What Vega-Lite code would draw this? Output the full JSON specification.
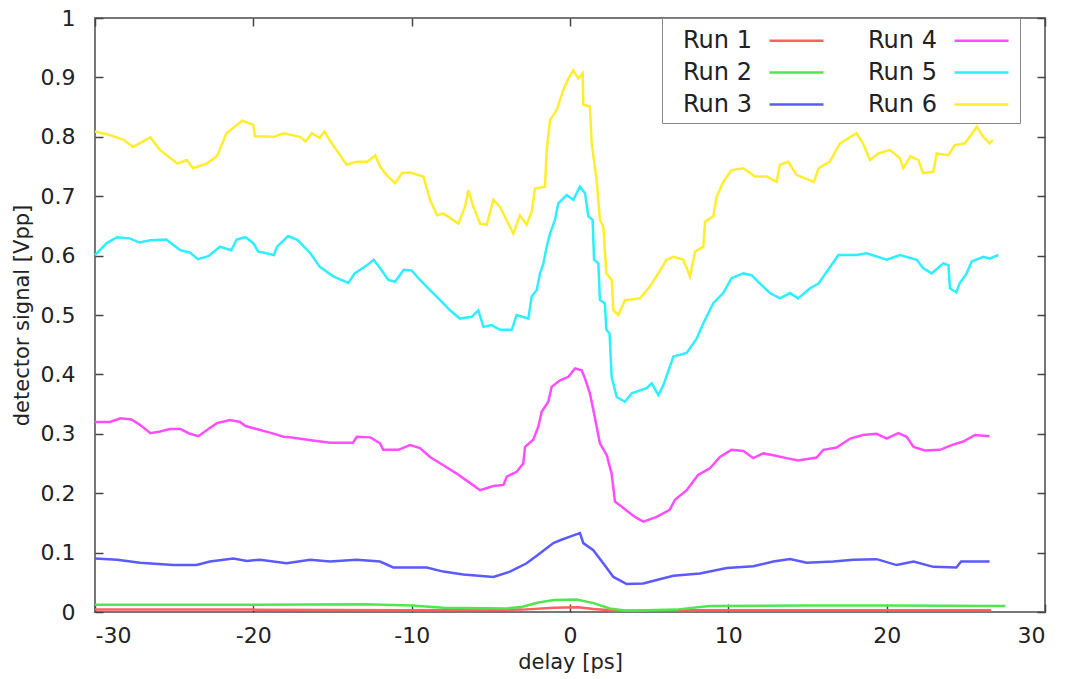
{
  "$schema": "https://vega.github.io/schema/vega-lite/v6.json",
  "autosize": {"type": "none"},
  "width": 950,
  "height": 594,
  "padding": {"left": 95, "top": 18, "right": 25, "bottom": 67},
  "background": "white",
  "config": {
    "font": "DejaVu Sans",
    "view": {"stroke": "#777777", "strokeWidth": 2},
    "axis": {"grid": false, "domain": false, "labelFont": "DejaVu Sans", "titleFont": "DejaVu Sans", "labelFontSize": 22, "titleFontSize": 21, "titleFontWeight": "normal", "labelColor": "#222222", "titleColor": "#222222", "tickColor": "#444444", "tickSize": -8, "tickWidth": 1.5}
  },
  "datasets": {
    "runs": [
      {"run": "Run 1", "x": -30, "y": 0.004}, {"run": "Run 1", "x": -20, "y": 0.004}, {"run": "Run 1", "x": -10, "y": 0.003}, {"run": "Run 1", "x": -3, "y": 0.004}, {"run": "Run 1", "x": -1, "y": 0.007}, {"run": "Run 1", "x": 0.5, "y": 0.008}, {"run": "Run 1", "x": 1.5, "y": 0.005}, {"run": "Run 1", "x": 3, "y": 0.002}, {"run": "Run 1", "x": 8, "y": 0.003}, {"run": "Run 1", "x": 20, "y": 0.003}, {"run": "Run 1", "x": 26.6, "y": 0.003},

      {"run": "Run 2", "x": -30, "y": 0.012}, {"run": "Run 2", "x": -20, "y": 0.012}, {"run": "Run 2", "x": -13, "y": 0.013}, {"run": "Run 2", "x": -10, "y": 0.011}, {"run": "Run 2", "x": -8, "y": 0.007}, {"run": "Run 2", "x": -4, "y": 0.006}, {"run": "Run 2", "x": -3, "y": 0.009}, {"run": "Run 2", "x": -2, "y": 0.016}, {"run": "Run 2", "x": -1, "y": 0.020}, {"run": "Run 2", "x": 0.4, "y": 0.021}, {"run": "Run 2", "x": 1.5, "y": 0.015}, {"run": "Run 2", "x": 2.5, "y": 0.006}, {"run": "Run 2", "x": 3.6, "y": 0.002}, {"run": "Run 2", "x": 6.7, "y": 0.004}, {"run": "Run 2", "x": 8.8, "y": 0.010}, {"run": "Run 2", "x": 15, "y": 0.011}, {"run": "Run 2", "x": 20, "y": 0.011}, {"run": "Run 2", "x": 27.5, "y": 0.010},

      {"run": "Run 3", "x": -30, "y": 0.090}, {"run": "Run 3", "x": -28.6, "y": 0.088}, {"run": "Run 3", "x": -27.16, "y": 0.083}, {"run": "Run 3", "x": -25.05, "y": 0.079}, {"run": "Run 3", "x": -23.58, "y": 0.079}, {"run": "Run 3", "x": -22.74, "y": 0.085}, {"run": "Run 3", "x": -21.26, "y": 0.090}, {"run": "Run 3", "x": -20.4, "y": 0.086}, {"run": "Run 3", "x": -19.58, "y": 0.088}, {"run": "Run 3", "x": -17.9, "y": 0.082}, {"run": "Run 3", "x": -16.4, "y": 0.088}, {"run": "Run 3", "x": -15.16, "y": 0.085}, {"run": "Run 3", "x": -13.47, "y": 0.088}, {"run": "Run 3", "x": -12.0, "y": 0.085}, {"run": "Run 3", "x": -11.16, "y": 0.075}, {"run": "Run 3", "x": -9.05, "y": 0.075}, {"run": "Run 3", "x": -8.0, "y": 0.068}, {"run": "Run 3", "x": -6.74, "y": 0.063}, {"run": "Run 3", "x": -4.84, "y": 0.059}, {"run": "Run 3", "x": -3.79, "y": 0.068}, {"run": "Run 3", "x": -2.74, "y": 0.082}, {"run": "Run 3", "x": -1.89, "y": 0.099}, {"run": "Run 3", "x": -1.05, "y": 0.116}, {"run": "Run 3", "x": -0.5, "y": 0.122}, {"run": "Run 3", "x": 0.0, "y": 0.127}, {"run": "Run 3", "x": 0.63, "y": 0.133}, {"run": "Run 3", "x": 0.84, "y": 0.116}, {"run": "Run 3", "x": 1.47, "y": 0.104}, {"run": "Run 3", "x": 2.1, "y": 0.082}, {"run": "Run 3", "x": 2.74, "y": 0.059}, {"run": "Run 3", "x": 3.58, "y": 0.047}, {"run": "Run 3", "x": 4.63, "y": 0.048}, {"run": "Run 3", "x": 5.47, "y": 0.054}, {"run": "Run 3", "x": 6.53, "y": 0.061}, {"run": "Run 3", "x": 8.21, "y": 0.065}, {"run": "Run 3", "x": 9.9, "y": 0.074}, {"run": "Run 3", "x": 11.58, "y": 0.077}, {"run": "Run 3", "x": 12.84, "y": 0.085}, {"run": "Run 3", "x": 13.9, "y": 0.089}, {"run": "Run 3", "x": 14.95, "y": 0.083}, {"run": "Run 3", "x": 16.63, "y": 0.085}, {"run": "Run 3", "x": 17.9, "y": 0.088}, {"run": "Run 3", "x": 19.37, "y": 0.089}, {"run": "Run 3", "x": 20.63, "y": 0.079}, {"run": "Run 3", "x": 21.7, "y": 0.085}, {"run": "Run 3", "x": 22.95, "y": 0.076}, {"run": "Run 3", "x": 24.4, "y": 0.075}, {"run": "Run 3", "x": 24.7, "y": 0.085}, {"run": "Run 3", "x": 26.5, "y": 0.085},

      {"run": "Run 4", "x": -30, "y": 0.320}, {"run": "Run 4", "x": -29.05, "y": 0.320}, {"run": "Run 4", "x": -28.4, "y": 0.326}, {"run": "Run 4", "x": -27.7, "y": 0.324}, {"run": "Run 4", "x": -27.16, "y": 0.315}, {"run": "Run 4", "x": -26.5, "y": 0.301}, {"run": "Run 4", "x": -25.9, "y": 0.304}, {"run": "Run 4", "x": -25.26, "y": 0.308}, {"run": "Run 4", "x": -24.6, "y": 0.308}, {"run": "Run 4", "x": -24.0, "y": 0.300}, {"run": "Run 4", "x": -23.47, "y": 0.296}, {"run": "Run 4", "x": -22.95, "y": 0.306}, {"run": "Run 4", "x": -22.3, "y": 0.318}, {"run": "Run 4", "x": -21.47, "y": 0.323}, {"run": "Run 4", "x": -20.84, "y": 0.320}, {"run": "Run 4", "x": -20.5, "y": 0.313}, {"run": "Run 4", "x": -19.8, "y": 0.308}, {"run": "Run 4", "x": -18.95, "y": 0.302}, {"run": "Run 4", "x": -18.1, "y": 0.295}, {"run": "Run 4", "x": -17.7, "y": 0.294}, {"run": "Run 4", "x": -16.8, "y": 0.291}, {"run": "Run 4", "x": -16.0, "y": 0.288}, {"run": "Run 4", "x": -15.16, "y": 0.285}, {"run": "Run 4", "x": -13.7, "y": 0.285}, {"run": "Run 4", "x": -13.47, "y": 0.295}, {"run": "Run 4", "x": -12.6, "y": 0.294}, {"run": "Run 4", "x": -12.0, "y": 0.284}, {"run": "Run 4", "x": -11.8, "y": 0.273}, {"run": "Run 4", "x": -10.84, "y": 0.273}, {"run": "Run 4", "x": -10.1, "y": 0.281}, {"run": "Run 4", "x": -9.47, "y": 0.276}, {"run": "Run 4", "x": -8.84, "y": 0.261}, {"run": "Run 4", "x": -8.0, "y": 0.247}, {"run": "Run 4", "x": -7.16, "y": 0.233}, {"run": "Run 4", "x": -6.3, "y": 0.217}, {"run": "Run 4", "x": -5.68, "y": 0.205}, {"run": "Run 4", "x": -4.84, "y": 0.212}, {"run": "Run 4", "x": -4.2, "y": 0.214}, {"run": "Run 4", "x": -3.99, "y": 0.228}, {"run": "Run 4", "x": -3.37, "y": 0.236}, {"run": "Run 4", "x": -2.95, "y": 0.250}, {"run": "Run 4", "x": -2.84, "y": 0.278}, {"run": "Run 4", "x": -2.32, "y": 0.290}, {"run": "Run 4", "x": -2.0, "y": 0.312}, {"run": "Run 4", "x": -1.79, "y": 0.337}, {"run": "Run 4", "x": -1.37, "y": 0.354}, {"run": "Run 4", "x": -1.16, "y": 0.379}, {"run": "Run 4", "x": -0.63, "y": 0.390}, {"run": "Run 4", "x": -0.1, "y": 0.396}, {"run": "Run 4", "x": 0.32, "y": 0.410}, {"run": "Run 4", "x": 0.74, "y": 0.407}, {"run": "Run 4", "x": 0.95, "y": 0.393}, {"run": "Run 4", "x": 1.26, "y": 0.368}, {"run": "Run 4", "x": 1.58, "y": 0.326}, {"run": "Run 4", "x": 1.89, "y": 0.284}, {"run": "Run 4", "x": 2.32, "y": 0.264}, {"run": "Run 4", "x": 2.63, "y": 0.233}, {"run": "Run 4", "x": 2.84, "y": 0.186}, {"run": "Run 4", "x": 3.37, "y": 0.175}, {"run": "Run 4", "x": 4.1, "y": 0.160}, {"run": "Run 4", "x": 4.63, "y": 0.152}, {"run": "Run 4", "x": 5.47, "y": 0.160}, {"run": "Run 4", "x": 6.3, "y": 0.172}, {"run": "Run 4", "x": 6.63, "y": 0.189}, {"run": "Run 4", "x": 7.37, "y": 0.205}, {"run": "Run 4", "x": 8.1, "y": 0.231}, {"run": "Run 4", "x": 8.84, "y": 0.242}, {"run": "Run 4", "x": 9.47, "y": 0.261}, {"run": "Run 4", "x": 10.2, "y": 0.273}, {"run": "Run 4", "x": 10.95, "y": 0.271}, {"run": "Run 4", "x": 11.58, "y": 0.259}, {"run": "Run 4", "x": 12.2, "y": 0.267}, {"run": "Run 4", "x": 12.84, "y": 0.264}, {"run": "Run 4", "x": 13.68, "y": 0.259}, {"run": "Run 4", "x": 14.4, "y": 0.255}, {"run": "Run 4", "x": 15.58, "y": 0.260}, {"run": "Run 4", "x": 16.0, "y": 0.273}, {"run": "Run 4", "x": 16.84, "y": 0.277}, {"run": "Run 4", "x": 17.7, "y": 0.292}, {"run": "Run 4", "x": 18.5, "y": 0.298}, {"run": "Run 4", "x": 19.37, "y": 0.300}, {"run": "Run 4", "x": 20.0, "y": 0.292}, {"run": "Run 4", "x": 20.74, "y": 0.301}, {"run": "Run 4", "x": 21.26, "y": 0.295}, {"run": "Run 4", "x": 21.7, "y": 0.278}, {"run": "Run 4", "x": 22.4, "y": 0.272}, {"run": "Run 4", "x": 23.37, "y": 0.273}, {"run": "Run 4", "x": 24.1, "y": 0.281}, {"run": "Run 4", "x": 24.84, "y": 0.287}, {"run": "Run 4", "x": 25.58, "y": 0.298}, {"run": "Run 4", "x": 26.5, "y": 0.296},

      {"run": "Run 5", "x": -30, "y": 0.601}, {"run": "Run 5", "x": -29.26, "y": 0.621}, {"run": "Run 5", "x": -28.6, "y": 0.631}, {"run": "Run 5", "x": -27.8, "y": 0.629}, {"run": "Run 5", "x": -27.2, "y": 0.622}, {"run": "Run 5", "x": -26.5, "y": 0.626}, {"run": "Run 5", "x": -25.5, "y": 0.627}, {"run": "Run 5", "x": -24.6, "y": 0.609}, {"run": "Run 5", "x": -24.0, "y": 0.605}, {"run": "Run 5", "x": -23.5, "y": 0.594}, {"run": "Run 5", "x": -22.84, "y": 0.599}, {"run": "Run 5", "x": -22.1, "y": 0.615}, {"run": "Run 5", "x": -21.4, "y": 0.609}, {"run": "Run 5", "x": -21.05, "y": 0.627}, {"run": "Run 5", "x": -20.5, "y": 0.631}, {"run": "Run 5", "x": -20.0, "y": 0.621}, {"run": "Run 5", "x": -19.7, "y": 0.607}, {"run": "Run 5", "x": -18.7, "y": 0.601}, {"run": "Run 5", "x": -18.5, "y": 0.615}, {"run": "Run 5", "x": -17.8, "y": 0.633}, {"run": "Run 5", "x": -17.2, "y": 0.626}, {"run": "Run 5", "x": -16.4, "y": 0.604}, {"run": "Run 5", "x": -15.8, "y": 0.581}, {"run": "Run 5", "x": -14.95, "y": 0.565}, {"run": "Run 5", "x": -14.0, "y": 0.554}, {"run": "Run 5", "x": -13.6, "y": 0.570}, {"run": "Run 5", "x": -12.8, "y": 0.584}, {"run": "Run 5", "x": -12.4, "y": 0.593}, {"run": "Run 5", "x": -12.0, "y": 0.579}, {"run": "Run 5", "x": -11.47, "y": 0.559}, {"run": "Run 5", "x": -11.05, "y": 0.556}, {"run": "Run 5", "x": -10.5, "y": 0.576}, {"run": "Run 5", "x": -10.0, "y": 0.575}, {"run": "Run 5", "x": -9.47, "y": 0.559}, {"run": "Run 5", "x": -8.84, "y": 0.542}, {"run": "Run 5", "x": -8.2, "y": 0.525}, {"run": "Run 5", "x": -7.58, "y": 0.508}, {"run": "Run 5", "x": -6.95, "y": 0.494}, {"run": "Run 5", "x": -6.2, "y": 0.497}, {"run": "Run 5", "x": -5.79, "y": 0.508}, {"run": "Run 5", "x": -5.47, "y": 0.480}, {"run": "Run 5", "x": -4.95, "y": 0.483}, {"run": "Run 5", "x": -4.42, "y": 0.475}, {"run": "Run 5", "x": -3.68, "y": 0.475}, {"run": "Run 5", "x": -3.37, "y": 0.500}, {"run": "Run 5", "x": -2.63, "y": 0.494}, {"run": "Run 5", "x": -2.42, "y": 0.531}, {"run": "Run 5", "x": -2.1, "y": 0.542}, {"run": "Run 5", "x": -1.89, "y": 0.570}, {"run": "Run 5", "x": -1.68, "y": 0.587}, {"run": "Run 5", "x": -1.47, "y": 0.615}, {"run": "Run 5", "x": -1.26, "y": 0.637}, {"run": "Run 5", "x": -0.95, "y": 0.660}, {"run": "Run 5", "x": -0.74, "y": 0.688}, {"run": "Run 5", "x": -0.21, "y": 0.702}, {"run": "Run 5", "x": 0.21, "y": 0.694}, {"run": "Run 5", "x": 0.63, "y": 0.716}, {"run": "Run 5", "x": 0.95, "y": 0.705}, {"run": "Run 5", "x": 1.16, "y": 0.666}, {"run": "Run 5", "x": 1.43, "y": 0.660}, {"run": "Run 5", "x": 1.52, "y": 0.593}, {"run": "Run 5", "x": 1.79, "y": 0.587}, {"run": "Run 5", "x": 1.89, "y": 0.525}, {"run": "Run 5", "x": 2.2, "y": 0.520}, {"run": "Run 5", "x": 2.3, "y": 0.475}, {"run": "Run 5", "x": 2.5, "y": 0.469}, {"run": "Run 5", "x": 2.63, "y": 0.396}, {"run": "Run 5", "x": 2.95, "y": 0.362}, {"run": "Run 5", "x": 3.47, "y": 0.354}, {"run": "Run 5", "x": 3.9, "y": 0.368}, {"run": "Run 5", "x": 4.84, "y": 0.377}, {"run": "Run 5", "x": 5.16, "y": 0.385}, {"run": "Run 5", "x": 5.58, "y": 0.365}, {"run": "Run 5", "x": 5.9, "y": 0.382}, {"run": "Run 5", "x": 6.53, "y": 0.430}, {"run": "Run 5", "x": 7.37, "y": 0.436}, {"run": "Run 5", "x": 8.0, "y": 0.460}, {"run": "Run 5", "x": 8.42, "y": 0.486}, {"run": "Run 5", "x": 9.05, "y": 0.520}, {"run": "Run 5", "x": 9.68, "y": 0.537}, {"run": "Run 5", "x": 10.2, "y": 0.562}, {"run": "Run 5", "x": 10.95, "y": 0.570}, {"run": "Run 5", "x": 11.47, "y": 0.567}, {"run": "Run 5", "x": 12.0, "y": 0.553}, {"run": "Run 5", "x": 12.63, "y": 0.537}, {"run": "Run 5", "x": 13.26, "y": 0.528}, {"run": "Run 5", "x": 13.9, "y": 0.537}, {"run": "Run 5", "x": 14.4, "y": 0.528}, {"run": "Run 5", "x": 15.16, "y": 0.545}, {"run": "Run 5", "x": 15.7, "y": 0.553}, {"run": "Run 5", "x": 16.3, "y": 0.576}, {"run": "Run 5", "x": 16.95, "y": 0.601}, {"run": "Run 5", "x": 18.1, "y": 0.601}, {"run": "Run 5", "x": 18.74, "y": 0.604}, {"run": "Run 5", "x": 20.0, "y": 0.593}, {"run": "Run 5", "x": 20.84, "y": 0.601}, {"run": "Run 5", "x": 21.9, "y": 0.593}, {"run": "Run 5", "x": 22.3, "y": 0.579}, {"run": "Run 5", "x": 22.84, "y": 0.570}, {"run": "Run 5", "x": 23.58, "y": 0.587}, {"run": "Run 5", "x": 23.9, "y": 0.584}, {"run": "Run 5", "x": 24.0, "y": 0.545}, {"run": "Run 5", "x": 24.4, "y": 0.538}, {"run": "Run 5", "x": 24.6, "y": 0.553}, {"run": "Run 5", "x": 25.05, "y": 0.570}, {"run": "Run 5", "x": 25.37, "y": 0.590}, {"run": "Run 5", "x": 26.1, "y": 0.598}, {"run": "Run 5", "x": 26.5, "y": 0.595}, {"run": "Run 5", "x": 27.05, "y": 0.601},

      {"run": "Run 6", "x": -30, "y": 0.809}, {"run": "Run 6", "x": -29.05, "y": 0.803}, {"run": "Run 6", "x": -28.2, "y": 0.795}, {"run": "Run 6", "x": -27.6, "y": 0.783}, {"run": "Run 6", "x": -26.5, "y": 0.799}, {"run": "Run 6", "x": -25.9, "y": 0.778}, {"run": "Run 6", "x": -24.8, "y": 0.755}, {"run": "Run 6", "x": -24.2, "y": 0.761}, {"run": "Run 6", "x": -23.8, "y": 0.747}, {"run": "Run 6", "x": -22.95, "y": 0.755}, {"run": "Run 6", "x": -22.3, "y": 0.767}, {"run": "Run 6", "x": -21.7, "y": 0.806}, {"run": "Run 6", "x": -20.7, "y": 0.827}, {"run": "Run 6", "x": -20.0, "y": 0.820}, {"run": "Run 6", "x": -19.9, "y": 0.801}, {"run": "Run 6", "x": -18.7, "y": 0.800}, {"run": "Run 6", "x": -18.1, "y": 0.806}, {"run": "Run 6", "x": -17.05, "y": 0.800}, {"run": "Run 6", "x": -16.7, "y": 0.792}, {"run": "Run 6", "x": -16.3, "y": 0.806}, {"run": "Run 6", "x": -15.8, "y": 0.798}, {"run": "Run 6", "x": -15.5, "y": 0.809}, {"run": "Run 6", "x": -15.2, "y": 0.795}, {"run": "Run 6", "x": -14.6, "y": 0.772}, {"run": "Run 6", "x": -14.1, "y": 0.753}, {"run": "Run 6", "x": -13.5, "y": 0.758}, {"run": "Run 6", "x": -12.8, "y": 0.758}, {"run": "Run 6", "x": -12.3, "y": 0.769}, {"run": "Run 6", "x": -12.0, "y": 0.750}, {"run": "Run 6", "x": -11.6, "y": 0.736}, {"run": "Run 6", "x": -11.05, "y": 0.722}, {"run": "Run 6", "x": -10.6, "y": 0.739}, {"run": "Run 6", "x": -10.1, "y": 0.740}, {"run": "Run 6", "x": -9.26, "y": 0.733}, {"run": "Run 6", "x": -8.84, "y": 0.694}, {"run": "Run 6", "x": -8.4, "y": 0.668}, {"run": "Run 6", "x": -8.0, "y": 0.671}, {"run": "Run 6", "x": -7.05, "y": 0.654}, {"run": "Run 6", "x": -6.63, "y": 0.682}, {"run": "Run 6", "x": -6.42, "y": 0.710}, {"run": "Run 6", "x": -6.1, "y": 0.682}, {"run": "Run 6", "x": -5.68, "y": 0.654}, {"run": "Run 6", "x": -5.26, "y": 0.652}, {"run": "Run 6", "x": -4.84, "y": 0.694}, {"run": "Run 6", "x": -4.42, "y": 0.682}, {"run": "Run 6", "x": -3.9, "y": 0.654}, {"run": "Run 6", "x": -3.58, "y": 0.637}, {"run": "Run 6", "x": -3.16, "y": 0.668}, {"run": "Run 6", "x": -2.74, "y": 0.652}, {"run": "Run 6", "x": -2.42, "y": 0.674}, {"run": "Run 6", "x": -2.21, "y": 0.713}, {"run": "Run 6", "x": -1.58, "y": 0.716}, {"run": "Run 6", "x": -1.47, "y": 0.778}, {"run": "Run 6", "x": -1.26, "y": 0.828}, {"run": "Run 6", "x": -0.84, "y": 0.845}, {"run": "Run 6", "x": -0.42, "y": 0.879}, {"run": "Run 6", "x": -0.1, "y": 0.898}, {"run": "Run 6", "x": 0.21, "y": 0.912}, {"run": "Run 6", "x": 0.53, "y": 0.898}, {"run": "Run 6", "x": 0.8, "y": 0.907}, {"run": "Run 6", "x": 0.84, "y": 0.854}, {"run": "Run 6", "x": 1.26, "y": 0.851}, {"run": "Run 6", "x": 1.37, "y": 0.789}, {"run": "Run 6", "x": 1.68, "y": 0.727}, {"run": "Run 6", "x": 1.89, "y": 0.660}, {"run": "Run 6", "x": 2.1, "y": 0.649}, {"run": "Run 6", "x": 2.3, "y": 0.570}, {"run": "Run 6", "x": 2.63, "y": 0.559}, {"run": "Run 6", "x": 2.74, "y": 0.508}, {"run": "Run 6", "x": 3.05, "y": 0.500}, {"run": "Run 6", "x": 3.47, "y": 0.525}, {"run": "Run 6", "x": 4.42, "y": 0.528}, {"run": "Run 6", "x": 5.05, "y": 0.548}, {"run": "Run 6", "x": 5.58, "y": 0.570}, {"run": "Run 6", "x": 6.1, "y": 0.593}, {"run": "Run 6", "x": 6.53, "y": 0.598}, {"run": "Run 6", "x": 7.16, "y": 0.593}, {"run": "Run 6", "x": 7.58, "y": 0.565}, {"run": "Run 6", "x": 7.9, "y": 0.607}, {"run": "Run 6", "x": 8.42, "y": 0.615}, {"run": "Run 6", "x": 8.53, "y": 0.657}, {"run": "Run 6", "x": 9.05, "y": 0.666}, {"run": "Run 6", "x": 9.26, "y": 0.699}, {"run": "Run 6", "x": 9.68, "y": 0.724}, {"run": "Run 6", "x": 10.2, "y": 0.744}, {"run": "Run 6", "x": 10.95, "y": 0.747}, {"run": "Run 6", "x": 11.68, "y": 0.733}, {"run": "Run 6", "x": 12.42, "y": 0.733}, {"run": "Run 6", "x": 13.05, "y": 0.724}, {"run": "Run 6", "x": 13.26, "y": 0.753}, {"run": "Run 6", "x": 13.79, "y": 0.758}, {"run": "Run 6", "x": 14.3, "y": 0.736}, {"run": "Run 6", "x": 15.4, "y": 0.724}, {"run": "Run 6", "x": 15.7, "y": 0.747}, {"run": "Run 6", "x": 16.4, "y": 0.758}, {"run": "Run 6", "x": 17.05, "y": 0.789}, {"run": "Run 6", "x": 18.1, "y": 0.806}, {"run": "Run 6", "x": 18.5, "y": 0.789}, {"run": "Run 6", "x": 18.95, "y": 0.761}, {"run": "Run 6", "x": 19.47, "y": 0.772}, {"run": "Run 6", "x": 20.2, "y": 0.778}, {"run": "Run 6", "x": 20.84, "y": 0.764}, {"run": "Run 6", "x": 21.05, "y": 0.747}, {"run": "Run 6", "x": 21.5, "y": 0.767}, {"run": "Run 6", "x": 22.0, "y": 0.761}, {"run": "Run 6", "x": 22.3, "y": 0.739}, {"run": "Run 6", "x": 22.95, "y": 0.741}, {"run": "Run 6", "x": 23.16, "y": 0.772}, {"run": "Run 6", "x": 23.9, "y": 0.769}, {"run": "Run 6", "x": 24.3, "y": 0.786}, {"run": "Run 6", "x": 24.95, "y": 0.789}, {"run": "Run 6", "x": 25.7, "y": 0.817}, {"run": "Run 6", "x": 26.1, "y": 0.800}, {"run": "Run 6", "x": 26.5, "y": 0.789}, {"run": "Run 6", "x": 26.7, "y": 0.795}
    ]
  },
  "data": {"name": "runs"},
  "resolve": {"axis": {"x": "independent", "y": "independent"}},
  "layer": [
    {
      "mark": {"type": "line", "strokeWidth": 2.5, "interpolate": "linear"},
      "encoding": {
        "x": {"field": "x", "type": "quantitative", "scale": {"domain": [-30, 30], "nice": false, "zero": false},
              "axis": {"orient": "bottom", "values": [-30, -20, -10, 0, 10, 20, 30], "labelExpr": "'' + datum.value", "labelPadding": 21, "title": "delay [ps]", "titlePadding": 5}},
        "y": {"field": "y", "type": "quantitative", "scale": {"domain": [0, 1], "nice": false},
              "axis": {"orient": "left", "values": [0, 0.1, 0.2, 0.3, 0.4, 0.5, 0.6, 0.7, 0.8, 0.9, 1], "labelExpr": "'' + datum.value", "labelPadding": 28, "title": "detector signal [Vpp]", "titlePadding": 8}},
        "color": {"field": "run", "type": "nominal",
                  "scale": {"domain": ["Run 1", "Run 2", "Run 3", "Run 4", "Run 5", "Run 6"], "range": ["#ff5f5f", "#4ee84e", "#5a5aff", "#ff4dff", "#2eeeff", "#ffee2e"]},
                  "legend": {"title": null, "orient": "none", "legendX": 567, "legendY": 0, "columns": 2, "symbolType": "M-1.8,0H1.8", "symbolSize": 900, "symbolStrokeWidth": 2.5, "symbolOffset": 112, "labelFontSize": 24, "labelColor": "#222222", "labelFont": "DejaVu Sans", "labelAlign": "left", "labelOffset": -130, "rowPadding": 3, "columnPadding": 24, "strokeColor": "#888888", "padding": 6, "fillColor": "white"}}
      }
    },
    {
      "mark": {"type": "line", "opacity": 0},
      "encoding": {
        "x": {"field": "x", "type": "quantitative", "axis": {"orient": "top", "values": [-30, -20, -10, 0, 10, 20, 30], "labels": false, "title": null}},
        "y": {"field": "y", "type": "quantitative", "axis": {"orient": "right", "values": [0, 0.1, 0.2, 0.3, 0.4, 0.5, 0.6, 0.7, 0.8, 0.9, 1], "labels": false, "title": null}},
        "detail": {"field": "run"}
      }
    }
  ]
}
